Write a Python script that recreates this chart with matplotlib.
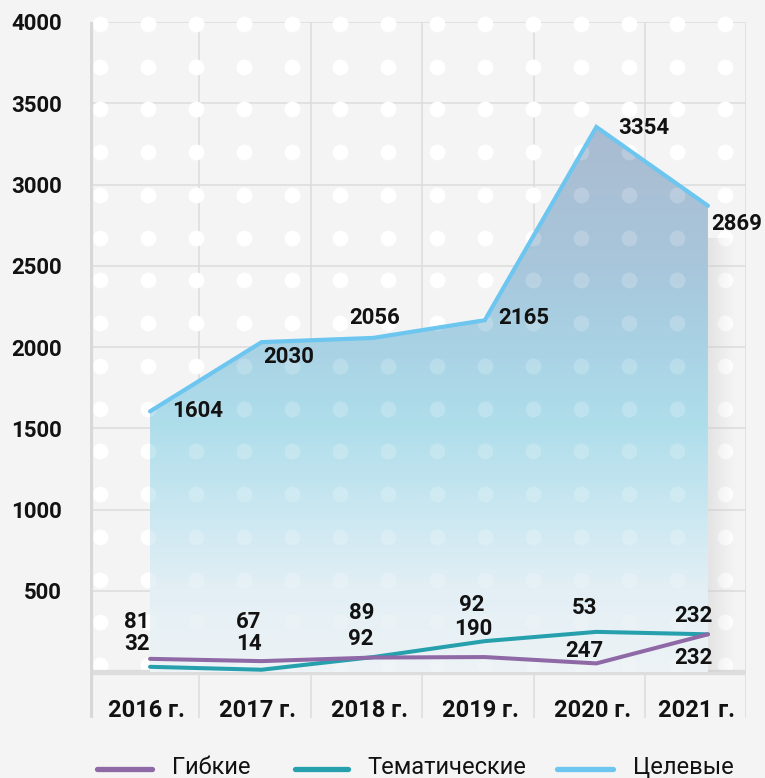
import numpy as np
import matplotlib.pyplot as plt
from matplotlib.colors import LinearSegmentedColormap
from matplotlib.patches import Polygon
from matplotlib.lines import Line2D

plt.rcParams['font.family'] = ['Roboto', 'DejaVu Sans']

# data
years = ['2016 г.', '2017 г.', '2018 г.', '2019 г.', '2020 г.', '2021 г.']
flexible = [81, 67, 89, 92, 53, 232]        # Гибкие
thematic = [32, 14, 92, 190, 247, 232]      # Тематические
targeted = [1604, 2030, 2056, 2165, 3354, 2869]  # Целевые
series_names = ['Гибкие', 'Тематические', 'Целевые']
yticks = [500, 1000, 1500, 2000, 2500, 3000, 3500, 4000]

c_flex = '#8f69a6'
c_them = '#26a0ad'
c_targ = '#6dc6f0'
bg = '#f4f4f4'
grid_c = '#dcdcdc'
txt = '#121212'

W, H = 765, 778
fig = plt.figure(figsize=(W / 100, H / 100), dpi=100, facecolor=bg)
# axes: x 90..746 px, y 22..718 px
ax = fig.add_axes([90 / W, 1 - 718 / H, 656 / W, 696 / H])
ax.set_facecolor(bg)
x = np.arange(len(years))
ax.set_xlim(-0.538, 5.341)
ax.set_ylim(-283, 4000)
for s in ax.spines.values():
    s.set_visible(False)

# dotted background pattern (pixel positions -> axes fraction)
dx_px = np.linspace(100, 725, 14)
dy_px = np.linspace(24, 665, 16)
gx, gy = np.meshgrid((dx_px - 90) / 656, (718 - dy_px) / 696)
ax.scatter(gx.ravel(), gy.ravel(), s=130, color='white', lw=0,
           transform=ax.transAxes, clip_on=False, zorder=1)

# grid
for v in yticks:
    ax.axhline(v, color=grid_c, lw=1.1, zorder=0.5)
for gxv in list(x[:-1] + 0.44) + [5.341]:
    ax.axvline(gxv, color=grid_c, lw=1.1, zorder=0.5)
ax.axhline(0, color='#dddddd', lw=3.8, zorder=1.5)
ax.axvline(-0.538, ymin=0, ymax=1, color='#d8d8d8', lw=3.8, zorder=1.5)

# gradient fill under target line
cmap = LinearSegmentedColormap.from_list('fillgrad', [
    (0.0, '#edf3f6'), (0.15, '#e3eff5'), (0.3, '#c9e7f1'),
    (0.45, '#afdeeb'), (0.6, '#a9d2e4'), (0.75, '#a8c6db'), (1.0, '#aabbd0')])
top = max(targeted)
poly = Polygon([(x[0], 0)] + list(zip(x, targeted)) + [(x[-1], 0)],
               closed=True, facecolor='none', edgecolor='none')
ax.add_patch(poly)
grad = np.linspace(0, 1, 256).reshape(-1, 1)
im = ax.imshow(grad, extent=[x[0], x[-1], 0, top], origin='lower',
               aspect='auto', cmap=cmap, zorder=2)
im.set_clip_path(poly)

# soft shadow to the right of the fill
sh = np.zeros((2, 64, 4))
sh[..., :3] = 0.78
sh[..., 3] = np.linspace(0.35, 0, 64)[None, :]
ax.imshow(sh, extent=[x[-1], x[-1] + 0.24, 0, targeted[-1] * 0.93],
          aspect='auto', zorder=1.8)

# faint dots over the fill
dots2 = ax.scatter(gx.ravel(), gy.ravel(), s=130, color='white', lw=0,
                   alpha=0.2, transform=ax.transAxes, zorder=2.5)
dots2.set_clip_path(poly)

# lines
ax.plot(x, targeted, color=c_targ, lw=3.0, solid_capstyle='round',
        solid_joinstyle='miter', zorder=4)
ax.plot(x, thematic, color=c_them, lw=2.9, solid_capstyle='round', zorder=4)
ax.plot(x, flexible, color=c_flex, lw=2.9, solid_capstyle='round', zorder=4)

# value labels (pixel offsets from the point)
lab_kw = dict(textcoords='offset pixels', fontsize=16, fontweight='bold',
              color=txt, va='center', zorder=6)
targ_off = [(22, 0, 'left'), (2, -15, 'left'), (1, 20, 'center'),
            (13, 2, 'left'), (22, -1, 'left'), (3, -18, 'left')]
for i, (v, (ox, oy, ha)) in enumerate(zip(targeted, targ_off)):
    ax.annotate(str(v), (x[i], v), xytext=(ox, oy), ha=ha, **lab_kw)
flex_off = [(-13, 37), (-13, 39), (-12, 45), (-13, 52), (-12, 55), (-15, -24)]
them_off = [(-13, 23), (-13, 26), (-12, 18), (-12, 12), (-12, -19), (-15, 18)]
for i, (v, (ox, oy)) in enumerate(zip(flexible, flex_off)):
    ax.annotate(str(v), (x[i], v), xytext=(ox, oy), ha='center', **lab_kw)
for i, (v, (ox, oy)) in enumerate(zip(thematic, them_off)):
    ax.annotate(str(v), (x[i], v), xytext=(ox, oy), ha='center', **lab_kw)

# category labels below baseline
for i, lab in enumerate(years):
    shift = -0.1 if i == len(years) - 1 else -0.035
    ax.text(x[i] + shift, -234, lab, ha='center', va='center',
            fontsize=17, fontweight='bold', color=txt)

# y ticks
ax.set_xticks([])
ax.set_yticks(yticks)
ax.set_yticklabels([str(v) for v in yticks], fontsize=16, fontweight='bold',
                   color=txt)
ax.tick_params(axis='y', length=0, pad=20)

# legend drawn by hand along the bottom
leg = [(97, 152, 172, c_flex), (295, 348, 367, c_them), (557, 613, 633, c_targ)]
for (x0, x1, tx, col), name in zip(leg, series_names):
    fig.add_artist(Line2D([x0 / W, x1 / W], [1 - 769 / H, 1 - 769 / H],
                          color=col, lw=3.8, solid_capstyle='round'))
    fig.text(tx / W, 1 - 774 / H, name, fontsize=17, color=txt,
             ha='left', va='baseline')

fig.savefig('out.png', dpi=100, facecolor=bg)
